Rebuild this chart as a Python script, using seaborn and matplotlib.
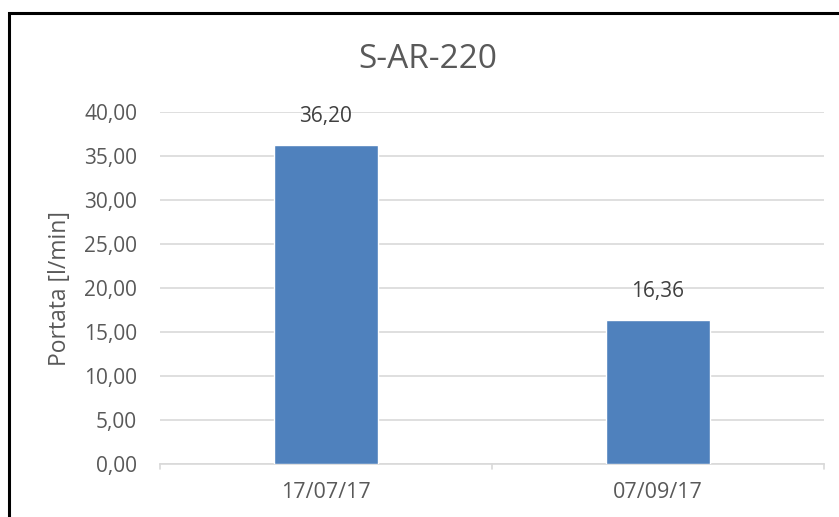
import matplotlib
matplotlib.use("Agg")
import matplotlib.pyplot as plt
import matplotlib.ticker as mticker
from matplotlib.patches import Rectangle
import seaborn as sns
import pandas as pd

# dati
dates = ["17/07/17", "07/09/17"]
portata = [36.20, 16.36]
title = "S-AR-220"
ylab = "Portata [l/min]"

sns.set_style("white")
plt.rcParams['font.family'] = ['Open Sans', 'DejaVu Sans']

grey_txt = "#595959"
grid_col = "#d9d9d9"

df = pd.DataFrame({"data": dates, "portata": portata})

fig = plt.figure(figsize=(8.39, 5.17), dpi=100)
ax = fig.add_axes([160/839, 1 - 464/517, 664/839, 352/517])

sns.barplot(ax=ax, data=df, x="data", y="portata", color="#4F81BD",
            width=0.316, saturation=1, zorder=3)

ax.set_ylim(0, 40)
ax.set_xlim(-0.5, 1.5)
ax.yaxis.set_major_locator(mticker.MultipleLocator(5))
ax.yaxis.set_major_formatter(mticker.FuncFormatter(lambda v, p: f"{v:.2f}".replace(".", ",")))
ax.grid(axis="y", color=grid_col, linewidth=1.2, zorder=0)
ax.set_axisbelow(True)
for s in ["top", "right", "left"]:
    ax.spines[s].set_visible(False)
ax.spines["bottom"].set_color(grid_col)
ax.spines["bottom"].set_linewidth(1.2)
ax.spines["bottom"].set_zorder(1)

ax.tick_params(axis="y", length=0, labelsize=15, labelcolor=grey_txt, pad=16.5)
ax.tick_params(axis="x", length=0, labelsize=15.5, labelcolor=grey_txt, pad=13)
# tacche tra le categorie
for xb in [-0.5, 0.5, 1.5]:
    ax.plot([xb, xb], [0, -0.55], color=grid_col, lw=1.2, clip_on=False, zorder=1)

ax.set_xlabel("")
ax.set_ylabel("")

for i, v in enumerate(portata):
    ax.annotate(f"{v:.2f}".replace(".", ","), (i, v), xytext=(0, 13), textcoords="offset points",
                ha="center", va="bottom", fontsize=15, color="#404040")

fig.text(428/839, 1 - 60/517, title, ha="center", va="center", fontsize=24, color=grey_txt)
fig.text(60/839, 1 - 289/517, ylab, ha="center", va="center", rotation=90, fontsize=16.5, color=grey_txt)

fig.patches.append(Rectangle((9/839, -0.1), 1.2, 1 - 13/517 + 0.1, transform=fig.transFigure,
                             fill=False, edgecolor="black", linewidth=2.2))

fig.savefig("out.png", dpi=100)
